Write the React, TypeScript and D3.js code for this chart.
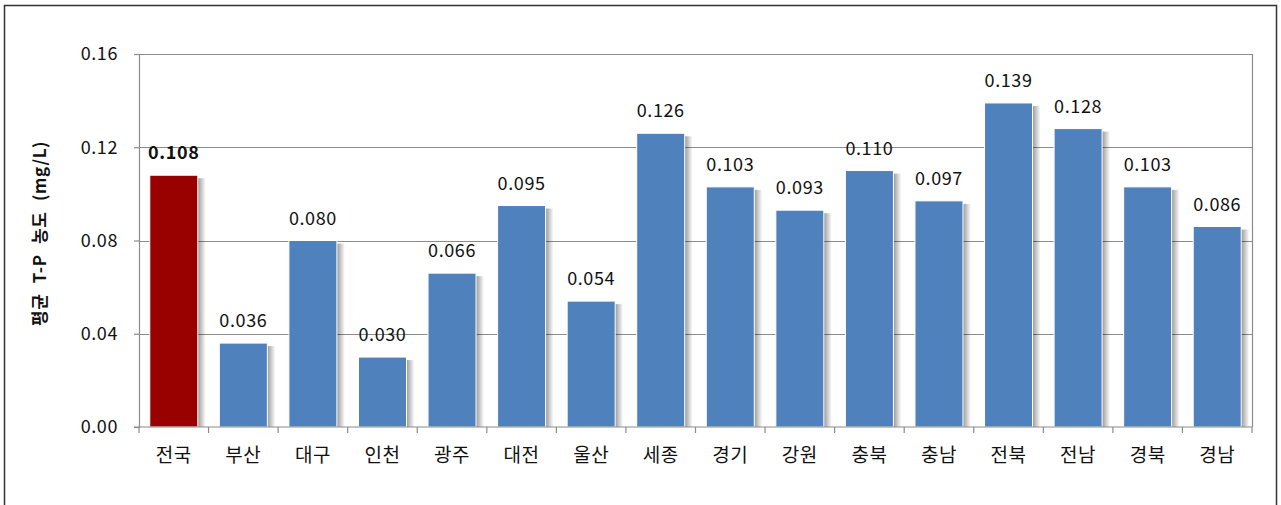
import React, { useEffect, useRef } from 'react';
import * as d3 from 'd3';

const regions = ['전국', '부산', '대구', '인천', '광주', '대전', '울산', '세종', '경기', '강원', '충북', '충남', '전북', '전남', '경북', '경남'];
const values = [0.108, 0.036, 0.080, 0.030, 0.066, 0.095, 0.054, 0.126, 0.103, 0.093, 0.110, 0.097, 0.139, 0.128, 0.103, 0.086];
const yTicks = [0, 0.04, 0.08, 0.12, 0.16];

const W = 1281;
const H = 505;
const margin = { top: 54, right: 29, bottom: 78, left: 139 };
const FONT = '"Noto Sans CJK KR", "Noto Sans", sans-serif';

function App() {
  const ref = useRef<SVGSVGElement>(null);

  useEffect(() => {
    const svg = d3.select(ref.current);
    svg.selectAll('*').remove();

    const innerW = W - margin.left - margin.right;
    const innerH = H - margin.top - margin.bottom;

    const defs = svg.append('defs');
    const grad = defs.append('linearGradient').attr('id', 'shade');
    grad.append('stop').attr('offset', '0%').attr('stop-color', '#000').attr('stop-opacity', 0.4);
    grad.append('stop').attr('offset', '100%').attr('stop-color', '#000').attr('stop-opacity', 0);

    // outer frame
    svg.append('rect')
      .attr('x', 4.5).attr('y', 5.5)
      .attr('width', 1272).attr('height', 520)
      .attr('fill', 'white').attr('stroke', '#333').attr('stroke-width', 1.5);

    const g = svg.append('g').attr('transform', `translate(${margin.left},${margin.top})`);

    const x = d3.scaleBand<string>()
      .domain(regions)
      .range([0, innerW])
      .paddingInner(0.31)
      .paddingOuter(0.155);

    const y = d3.scaleLinear().domain([0, 0.16]).range([innerH, 0]);

    // gridlines
    g.append('g')
      .selectAll('line')
      .data(yTicks.slice(1))
      .enter()
      .append('line')
      .attr('x1', 0).attr('x2', innerW)
      .attr('y1', d => Math.round(y(d)) + 0.5)
      .attr('y2', d => Math.round(y(d)) + 0.5)
      .attr('stroke', '#8c8c8c').attr('stroke-width', 1.2);

    // right border of plot
    g.append('line')
      .attr('x1', innerW + 0.5).attr('x2', innerW + 0.5)
      .attr('y1', 0).attr('y2', innerH)
      .attr('stroke', '#8c8c8c').attr('stroke-width', 1.2);

    // bar shadows
    g.append('g')
      .selectAll('rect')
      .data(values)
      .enter()
      .append('rect')
      .attr('x', (d, i) => (x(regions[i]) || 0) + x.bandwidth())
      .attr('y', d => y(d) + 3)
      .attr('width', 8)
      .attr('height', d => innerH - y(d) - 3)
      .attr('fill', 'url(#shade)');

    // bars
    g.append('g')
      .selectAll('rect')
      .data(values)
      .enter()
      .append('rect')
      .attr('x', (d, i) => x(regions[i]) || 0)
      .attr('y', d => y(d))
      .attr('width', x.bandwidth())
      .attr('height', d => innerH - y(d))
      .attr('fill', (d, i) => (i === 0 ? '#990000' : '#4f81bd'))
      .attr('stroke', 'white').attr('stroke-width', 1);

    // value labels
    g.append('g')
      .selectAll('text')
      .data(values)
      .enter()
      .append('text')
      .attr('x', (d, i) => (x(regions[i]) || 0) + x.bandwidth() / 2)
      .attr('y', d => y(d) - 16)
      .attr('text-anchor', 'middle')
      .attr('font-family', FONT)
      .attr('font-size', 18)
      .attr('letter-spacing', 0.6)
      .attr('font-weight', (d, i) => (i === 0 ? 'bold' : 'normal'))
      .attr('fill', '#111')
      .text(d => d.toFixed(3));

    // y axis
    const yAxis = g.append('g')
      .call(d3.axisLeft(y).tickValues(yTicks).tickFormat(d3.format('.2f')).tickSize(5).tickPadding(16));
    yAxis.select('.domain').attr('stroke', '#8c8c8c').attr('stroke-width', 1.2);
    yAxis.selectAll('.tick line').attr('stroke', '#8c8c8c').attr('stroke-width', 1.2);
    yAxis.selectAll('text').attr('font-family', FONT).attr('font-size', 18).attr('letter-spacing', 0.6).attr('fill', '#111');

    // x axis
    const xAxis = g.append('g').attr('transform', `translate(0,${innerH})`);
    xAxis.append('line')
      .attr('x1', -5).attr('x2', innerW)
      .attr('stroke', '#8c8c8c').attr('stroke-width', 1.2);
    const step = x.step();
    const bounds = d3.range(regions.length + 1).map(i => (x(regions[0]) || 0) - x.paddingOuter() * step + i * step);
    xAxis.selectAll('line.tk')
      .data(bounds)
      .enter()
      .append('line')
      .attr('class', 'tk')
      .attr('x1', d => d).attr('x2', d => d)
      .attr('y1', 0).attr('y2', 6)
      .attr('stroke', '#8c8c8c').attr('stroke-width', 1.2);
    xAxis.selectAll('text')
      .data(regions)
      .enter()
      .append('text')
      .attr('x', d => (x(d) || 0) + x.bandwidth() / 2)
      .attr('y', 35)
      .attr('text-anchor', 'middle')
      .attr('font-family', FONT)
      .attr('font-size', 19)
      .attr('letter-spacing', 0.5)
      .attr('fill', '#111')
      .text(d => d);

    // y label
    svg.append('text')
      .attr('transform', `translate(46,${margin.top + innerH / 2 - 7}) rotate(-90)`)
      .attr('text-anchor', 'middle')
      .attr('font-family', FONT)
      .attr('font-size', 17)
      .attr('font-weight', 'bold')
      .attr('word-spacing', 6)
      .attr('letter-spacing', 0.6)
      .attr('fill', '#111')
      .text('평균 T-P 농도 (mg/L)');
  }, []);

  return (
    <svg ref={ref} width={W} height={H} style={{ position: 'absolute', left: 0, top: 0 }}></svg>
  );
}

export default App;
